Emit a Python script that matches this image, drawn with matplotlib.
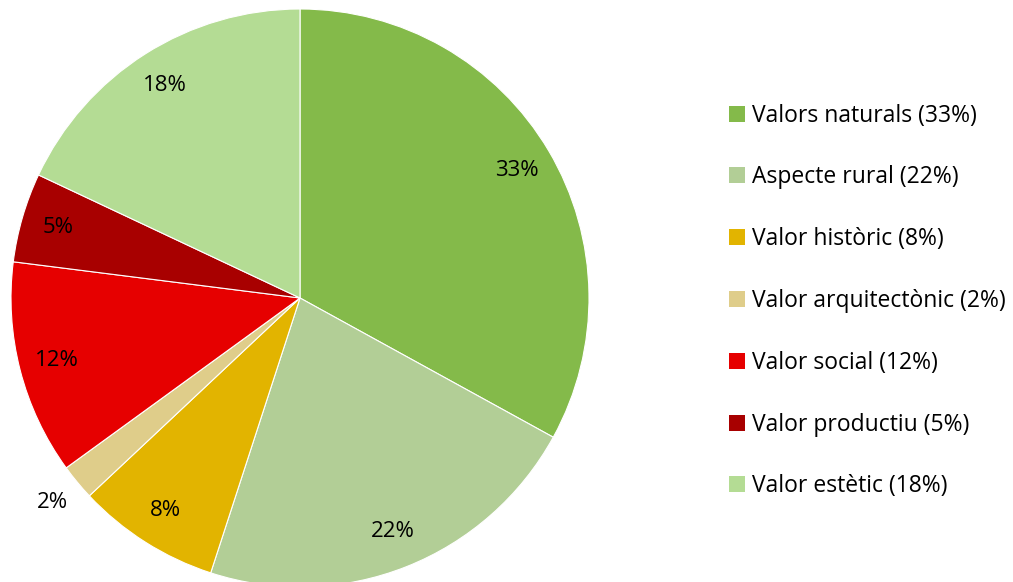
import matplotlib
matplotlib.use("Agg")
import matplotlib.pyplot as plt
from matplotlib.patches import Patch
import numpy as np

categories = ["Valors naturals", "Aspecte rural", "Valor històric", "Valor arquitectònic",
              "Valor social", "Valor productiu", "Valor estètic"]
values = [33, 22, 8, 2, 12, 5, 18]
colors = ["#84BA4A", "#B2CE96", "#E2B400", "#DFCD8A", "#E60000", "#A80000", "#B4DC94"]

plt.rcParams['font.family'] = ['Open Sans', 'DejaVu Sans']

fig = plt.figure(figsize=(10.13, 5.82), dpi=100)
R = 289
cx, cy = 300, 582 - 298
ax = fig.add_axes([(cx - R) / 1013, (cy - R) / 582, 2 * R / 1013, 2 * R / 582])
wedges, texts, autotexts = ax.pie(values, colors=colors, startangle=90, counterclock=False,
                                  autopct=lambda p: f"{p:.0f}%", pctdistance=0.87,
                                  wedgeprops=dict(edgecolor="white", linewidth=0.8),
                                  textprops=dict(fontsize=16, color="black"))
# move small slice label outside
w = wedges[3]
ang = np.deg2rad((w.theta1 + w.theta2) / 2)
autotexts[3].set_position((1.11 * np.cos(ang), 1.11 * np.sin(ang)))
ax.set_xlim(-1, 1)
ax.set_ylim(-1, 1)
ax.set_aspect("equal")
ax.axis("off")

handles = [Patch(facecolor=c, edgecolor="none") for c in colors]
labels = [f"{n} ({v}%)" for n, v in zip(categories, values)]
fig.legend(handles, labels, loc="center left", bbox_to_anchor=(708 / 1013, 1 - 301 / 582),
           frameon=False, fontsize=16.5, handlelength=0.7, handleheight=0.7,
           handletextpad=0.3, labelspacing=1.65)
fig.savefig("out.png", dpi=100)
